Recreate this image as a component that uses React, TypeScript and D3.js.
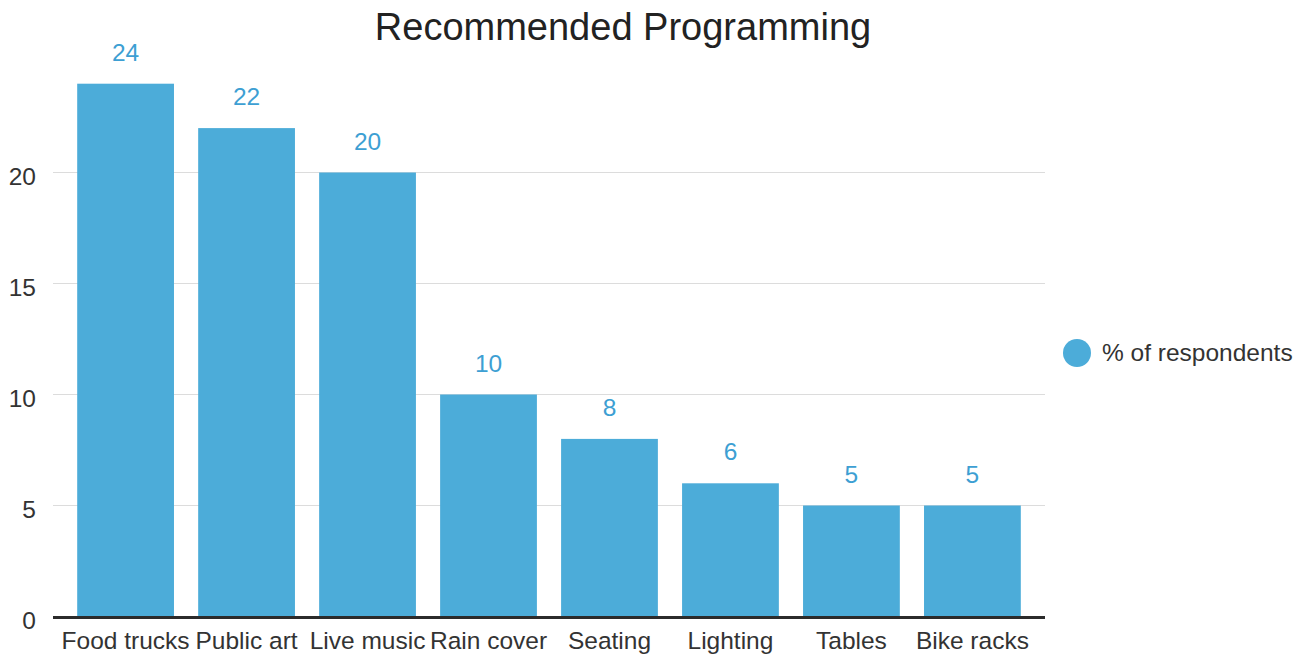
import React, { useEffect, useRef } from "react";
import * as d3 from "d3";

const categories = ["Food trucks", "Public art", "Live music", "Rain cover", "Seating", "Lighting", "Tables", "Bike racks"];
const values = [24, 22, 20, 10, 8, 6, 5, 5];
const yTicks = [0, 5, 10, 15, 20];
const seriesName = "% of respondents";
const title = "Recommended Programming";

const W = 1304;
const H = 656;
const FONT = "'Liberation Sans', Arial, Helvetica, sans-serif";
const BAR = "#4cacd9";
const LABEL = "#3d9fd3";
const FS = 24.5;

export default function App() {
  const ref = useRef<SVGSVGElement>(null);
  useEffect(() => {
    const svg = d3.select(ref.current);
    svg.selectAll("*").remove();
    const x = d3.scaleBand().domain(categories).range([53, 1045]).paddingInner(0.2).paddingOuter(0.2);
    const y = d3.scaleLinear().domain([0, 5]).range([616.5, 505.5]);

    svg.append("text").attr("x", 623).attr("y", 40).attr("text-anchor", "middle")
      .attr("font-family", FONT).attr("font-size", 38).attr("fill", "#222").text(title);

    const g = svg.append("g");
    g.selectAll("line.grid").data(yTicks.filter((t) => t > 0)).join("line")
      .attr("x1", 53).attr("x2", 1045).attr("y1", (d) => y(d)).attr("y2", (d) => y(d))
      .attr("stroke", "#dcdcdc").attr("stroke-width", 1);
    g.selectAll("text.ytick").data(yTicks).join("text")
      .attr("x", 36).attr("y", (d) => y(d) + 12.5).attr("text-anchor", "end")
      .attr("font-family", FONT).attr("font-size", FS).attr("fill", "#333").text((d) => d);

    g.selectAll("rect").data(values).join("rect")
      .attr("x", (_, i) => x(categories[i])!).attr("width", x.bandwidth())
      .attr("y", (d) => y(d)).attr("height", (d) => y(0) - y(d)).attr("fill", BAR);

    g.selectAll("text.val").data(values).join("text")
      .attr("x", (_, i) => x(categories[i])! + x.bandwidth() / 2).attr("y", (d) => y(d) - 23)
      .attr("text-anchor", "middle").attr("font-family", FONT).attr("font-size", FS).attr("fill", LABEL)
      .text((d) => d);

    g.append("line").attr("x1", 53).attr("x2", 1045).attr("y1", y(0) + 1).attr("y2", y(0) + 1)
      .attr("stroke", "#2b2b2b").attr("stroke-width", 3);

    g.selectAll("text.xlab").data(categories).join("text")
      .attr("x", (d) => x(d)! + x.bandwidth() / 2).attr("y", 649).attr("text-anchor", "middle")
      .attr("font-family", FONT).attr("font-size", FS).attr("fill", "#333").text((d) => d);

    svg.append("circle").attr("cx", 1077).attr("cy", 353).attr("r", 14).attr("fill", BAR);
    svg.append("text").attr("x", 1102).attr("y", 361).attr("font-family", FONT).attr("font-size", FS)
      .attr("fill", "#333").text(seriesName);
  }, []);
  return (
    <svg ref={ref} width={W} height={H} style={{ position: "absolute", left: 0, top: 0, background: "#fff" }} />
  );
}
